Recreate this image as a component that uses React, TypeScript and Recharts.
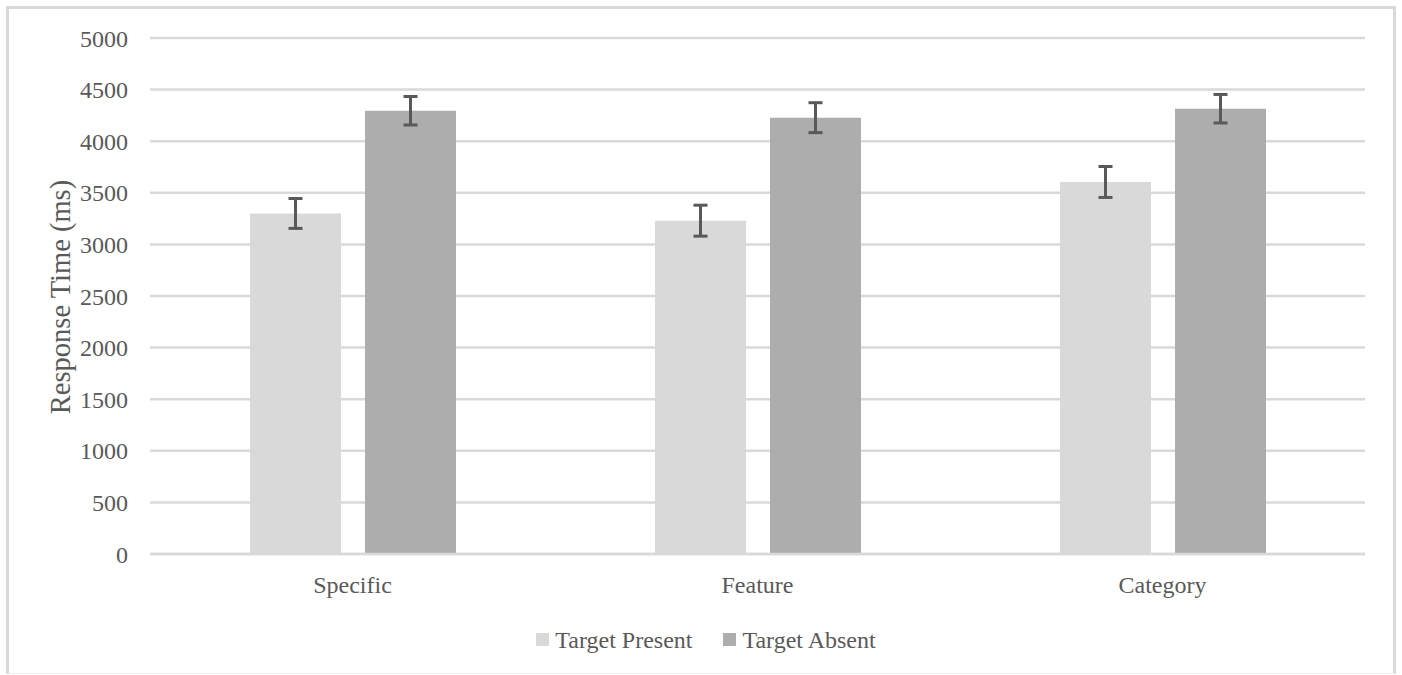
import {
  BarChart,
  Bar,
  XAxis,
  YAxis,
  CartesianGrid,
  ErrorBar,
  Legend,
} from "recharts";

const categories = ["Specific", "Feature", "Category"];
const presentValues = [3300, 3230, 3605];
const presentErrors = [145, 150, 150];
const absentValues = [4295, 4228, 4315];
const absentErrors = [138, 145, 138];
const yTicks = [0, 500, 1000, 1500, 2000, 2500, 3000, 3500, 4000, 4500, 5000];

const series = [
  { key: "present", name: "Target Present", color: "#d9d9d9" },
  { key: "absent", name: "Target Absent", color: "#adadad" },
];

const data = categories.map((c, i) => ({
  category: c,
  present: presentValues[i],
  presentErr: presentErrors[i],
  absent: absentValues[i],
  absentErr: absentErrors[i],
}));

const FONT = '"Liberation Serif", "Times New Roman", serif';
const TEXT = "#595959";

const LegendContent = () => (
  <div
    style={{
      height: 61,
      paddingTop: 10,
      paddingLeft: 10,
      boxSizing: "border-box",
      display: "flex",
      justifyContent: "center",
      fontFamily: FONT,
      fontSize: 24,
      lineHeight: "28px",
      color: TEXT,
    }}
  >
    {series.map((s, i) => (
      <span
        key={s.key}
        style={{ display: "flex", alignItems: "center", marginLeft: i ? 31 : 0 }}
      >
        <span
          style={{
            width: 13,
            height: 13,
            background: s.color,
            marginRight: 6,
            display: "inline-block",
          }}
        />
        {s.name}
      </span>
    ))}
  </div>
);

const YLabel = ({ viewBox }: any) => {
  const x = 60;
  const y = viewBox.y + viewBox.height / 2 + 1;
  return (
    <text
      x={x}
      y={y}
      transform={`rotate(-90, ${x}, ${y})`}
      textAnchor="middle"
      dominantBaseline="central"
      fontFamily={FONT}
      fontSize={28.5}
      fill={TEXT}
    >
      Response Time (ms)
    </text>
  );
};

export default function App() {
  return (
    <div
      style={{
        position: "absolute",
        left: 0,
        top: 0,
        width: 1402,
        height: 675,
        background: "#fff",
      }}
    >
      <div
        style={{
          position: "absolute",
          left: 6,
          top: 6,
          width: 1390,
          height: 668,
          boxSizing: "border-box",
          border: "3px solid #d9d9d9",
          borderBottom: "1px solid #eeeeee",
        }}
      />
      <div style={{ position: "absolute", left: 0, top: 0 }}>
        <BarChart
          width={1402}
          height={675}
          data={data}
          margin={{ top: 38, right: 37, left: 0, bottom: 10 }}
          barSize={91}
          barGap={24}
        >
          <CartesianGrid
            vertical={false}
            stroke="#d9d9d9"
            strokeWidth={2.5}
          />
          <XAxis
            dataKey="category"
            height={50}
            axisLine={{ stroke: "#d9d9d9", strokeWidth: 2.5 }}
            tickLine={false}
            tickMargin={16}
            tick={{ fontFamily: FONT, fontSize: 24, fill: TEXT }}
          />
          <YAxis
            width={150}
            domain={[0, 5000]}
            ticks={yTicks}
            axisLine={false}
            tickLine={false}
            tickMargin={16}
            tick={{ fontFamily: FONT, fontSize: 24, fill: TEXT }}
            label={<YLabel />}
          />
          <Legend
            verticalAlign="bottom"
            wrapperStyle={{ left: 0, width: 1402 }}
            content={<LegendContent />}
          />
          {series.map((s) => (
            <Bar
              key={s.key}
              dataKey={s.key}
              name={s.name}
              fill={s.color}
              isAnimationActive={false}
            >
              <ErrorBar
                dataKey={`${s.key}Err`}
                width={7}
                stroke={TEXT}
                strokeWidth={3}
                isAnimationActive={false}
              />
            </Bar>
          ))}
        </BarChart>
      </div>
    </div>
  );
}
